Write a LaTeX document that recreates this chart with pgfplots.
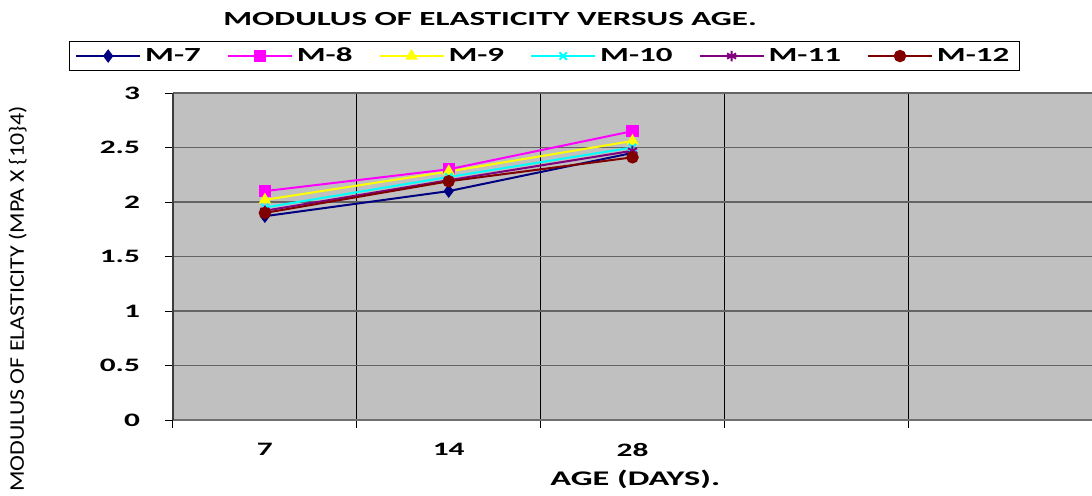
\documentclass[border=0pt]{standalone}
\usepackage{fontspec}
\setmainfont{Carlito}
\newfontfamily\wide[FakeStretch=1.65]{Carlito}
\newfontfamily\ylabfont[FakeStretch=1.15]{Carlito}
\usepackage{pgfplots}
\pgfplotsset{compat=1.18}
\definecolor{m7}{RGB}{0,0,128}
\definecolor{m8}{RGB}{255,0,255}
\definecolor{m9}{RGB}{255,255,0}
\definecolor{m10}{RGB}{0,255,255}
\definecolor{m11}{RGB}{128,0,128}
\definecolor{m12}{RGB}{128,0,0}
\begin{document}
\begin{tikzpicture}
\begin{axis}[
  scale only axis,
  width=459.5pt, height=163.5pt,
  xmin=-0.5, xmax=4.5,
  ymin=0, ymax=3,
  axis background/.style={fill={rgb,255:red,192;green,192;blue,192}},
  axis x line*=bottom, axis y line*=left,
  x axis line style={draw={rgb,255:red,110;green,110;blue,110}, line width=1.2pt},
  y axis line style={draw={rgb,255:red,60;green,60;blue,60}, line width=0.8pt},
  xtick={-0.5,0.5,1.5,2.5,3.5}, xticklabels={},
  ytick={0,0.5,...,3},
  tick align=outside, major tick length=4pt,
  tick style={black, line width=0.5pt},
  xmajorgrids, ymajorgrids,
  x grid style={black, line width=0.7pt},
  y grid style={draw={rgb,255:red,100;green,100;blue,100}, line width=0.9pt},
  extra x ticks={0,1,2},
  extra x tick labels={7,14,28},
  extra x tick style={grid=none, major tick length=0pt, xticklabel style={yshift=-8pt}},
  /pgf/number format/assume math mode=true,
  ticklabel style={font=\wide\bfseries\fontsize{9.5}{11}\selectfont},
  yticklabel style={xshift=-9pt},
  title={MODULUS OF ELASTICITY VERSUS AGE.},
  title style={at={(axis description cs:0.345,1.189)}, anchor=center, yshift=0pt, font=\wide\bfseries\fontsize{10}{12}\selectfont},
  xlabel={AGE (DAYS).},
  xlabel style={at={(axis description cs:0.503,-0.183)}, anchor=center, font=\wide\bfseries\fontsize{10.4}{12}\selectfont},
  ylabel={MODULUS OF ELASTICITY (MPA X \{10\}4)},
  ylabel style={at={(axis description cs:-0.169,0.37)}, anchor=center, font=\ylabfont\fontsize{10.4}{12}\selectfont},
  legend columns=-1,
  legend cell align=left,
  legend style={at={(axis description cs:0.404,1.113)}, anchor=center, draw=black, line width=0.6pt,
    fill=white, font=\wide\bfseries\fontsize{10}{12}\selectfont, inner xsep=3pt, inner ysep=1pt,
    /tikz/every even column/.append style={column sep=11pt}},
  legend image code/.code={\draw[mark repeat=2,mark phase=2] plot coordinates {(0pt,0pt) (16pt,0pt) (32pt,0pt)};},
  every axis plot/.append style={line width=1pt, mark size=2.6pt},
]
\addplot[color=m7, mark=diamond*] coordinates {(0,1.87) (1,2.10) (2,2.45)};
\addplot[color=m8, mark=square*, mark size=2.5pt] coordinates {(0,2.10) (1,2.30) (2,2.65)};
\addplot[color=m9, mark=triangle*] coordinates {(0,2.02) (1,2.28) (2,2.56)};
\addplot[color=m10, mark=x] coordinates {(0,1.95) (1,2.23) (2,2.50)};
\addplot[color=m11, mark=asterisk] coordinates {(0,1.92) (1,2.20) (2,2.47)};
\addplot[color=m12, mark=*] coordinates {(0,1.90) (1,2.19) (2,2.41)};
\legend{M-7,M-8,M-9,M-10,M-11,M-12}
\end{axis}
\pgfresetboundingbox
\path[use as bounding box] (-86.5pt,-37.5pt) rectangle (459.5pt,210pt);
\end{tikzpicture}
\end{document}
